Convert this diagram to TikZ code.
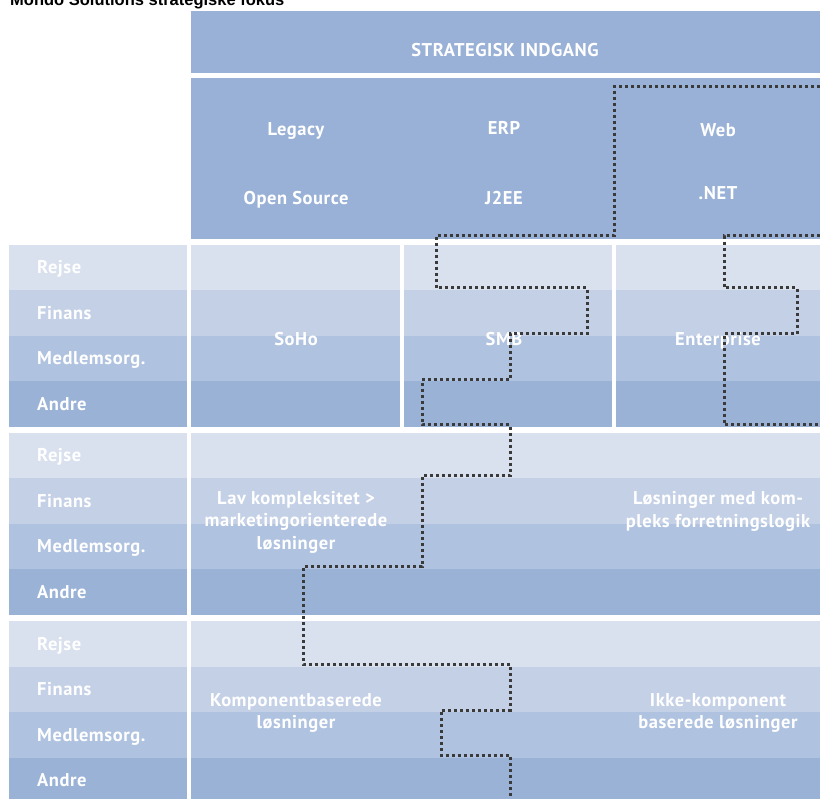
\documentclass[tikz,border=0pt]{standalone}
\usepackage{fontspec}
\setmainfont{Liberation Sans}
\newfontfamily\dinfont[LetterSpace=3]{PT Sans}
\definecolor{head}{RGB}{153,177,214}
\definecolor{rowrejse}{RGB}{217,224,238}
\definecolor{rowfinans}{RGB}{196,208,230}
\definecolor{rowmedlem}{RGB}{175,194,223}
\definecolor{rowandre}{RGB}{153,178,214}
\definecolor{dotgrey}{RGB}{58,58,58}

\begin{document}
\begin{tikzpicture}[x=1pt,y=-1pt,
  lbl/.style={text=white,inner sep=0pt,anchor=base west,
    font=\dinfont\bfseries\fontsize{18.5}{22.5}\selectfont},
  cell/.style={text=white,inner sep=0pt,anchor=base,align=center,
    font=\dinfont\bfseries\fontsize{18.5}{22.5}\selectfont},
  trail/.style={draw=dotgrey,line width=3pt,dash pattern=on 3pt off 3pt}]
  \useasboundingbox (0,0) rectangle (820,799);

  % title
  \node[anchor=base west,inner sep=0pt,font=\bfseries\fontsize{16.5}{19}\selectfont]
    (title) at (10,6) {Mondo Solutions strategiske fokus};

  % header
  \fill[head] (191,11) rectangle (820,73);
  \fill[head] (191,78) rectangle (820,239);
  \node[cell] (strat) at (505,56.5) {STRATEGISK INDGANG};
  \node[cell] (legacy) at (296,136) {Legacy};
  \node[cell] (opensrc) at (296,204.5) {Open Source};
  \node[cell] (erp) at (504,134.5) {ERP};
  \node[cell] (jee) at (504,204.5) {J2EE};
  \node[cell] (web) at (718,136.5) {Web};
  \node[cell] (dotnet) at (718,199.5) {.NET};

  % three blocks of rows
  \foreach \top/\sec in {245/a,433/b,621/c}{
    \fill[rowrejse] (9,\top) rectangle (820,\top+45.5);
    \fill[rowfinans] (9,\top+45.5) rectangle (820,\top+91);
    \fill[rowmedlem] (9,\top+91) rectangle (820,\top+136.5);
    \fill[rowandre] (9,\top+136.5) rectangle (820,\top+182);
    \node[lbl] (rejse-\sec) at (37,\top+29) {Rejse};
    \node[lbl] (finans-\sec) at (37,\top+74.5) {Finans};
    \node[lbl] (medlem-\sec) at (37,\top+120) {Medlemsorg.};
    \node[lbl] (andre-\sec) at (37,\top+165.5) {Andre};
  }
  \fill[white] (187,245) rectangle (191,803);
  \fill[white] (400,245) rectangle (404,427);
  \fill[white] (612,245) rectangle (616,427);

  \node[cell] (soho) at (296,345.5) {SoHo};
  \node[cell] (smb) at (504,345.5) {SMB};
  \node[cell] (enterprise) at (718,345.5) {Enterprise};
  \node[cell] (lavkompl) at (296,549.5) {Lav kompleksitet >\\marketingorienterede\\løsninger};
  \node[cell] (kompleks) at (718,527.5) {Løsninger med kom-\\pleks forretningslogik};
  \node[cell] (kompbas) at (296,728.5) {Komponentbaserede\\løsninger};
  \node[cell] (ikkekomp) at (718,728.5) {Ikke-komponent\\baserede løsninger};

  % focus borders
  \draw[trail] (820,87) -- (614,87) -- (614,236) -- (436,236) -- (436,288)
    -- (587,288) -- (587,334) -- (510,334) -- (510,380) -- (422,380)
    -- (422,425) -- (510,425) -- (510,476) -- (422,476) -- (422,567)
    -- (303,567) -- (303,664) -- (510,664) -- (510,710) -- (441,710)
    -- (441,755) -- (510,755) -- (510,805);
  \draw[trail] (820,236) -- (724,236) -- (724,288) -- (797,288) -- (797,334)
    -- (724,334) -- (724,425) -- (820,425);
\end{tikzpicture}
\end{document}
